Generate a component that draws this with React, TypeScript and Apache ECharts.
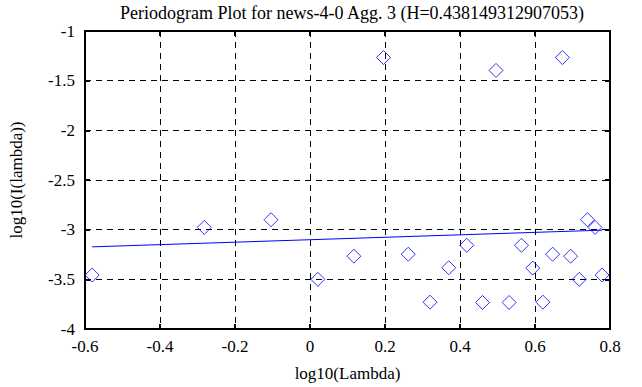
import React, { useEffect, useRef } from "react";
import * as echarts from "echarts";

const titleText = "Periodogram Plot for news-4-0 Agg. 3 (H=0.438149312907053)";
const xName = "log10(Lambda)";
const yName = "log10(I(lambda))";

const pointX = [
  -0.581, -0.282, -0.104, 0.021, 0.117, 0.196, 0.262, 0.32, 0.37, 0.418, 0.46, 0.496,
  0.531, 0.564, 0.594, 0.621, 0.647, 0.673, 0.695, 0.718, 0.74, 0.76, 0.779,
];
const pointY = [
  -3.457, -2.977, -2.9, -3.5, -3.267, -1.267, -3.247, -3.73, -3.383, -3.157, -3.733, -1.397,
  -3.733, -3.157, -3.387, -3.73, -3.247, -1.267, -3.267, -3.5, -2.9, -2.977, -3.457,
];
const fitX = [-0.581, 0.779];
const fitY = [-3.173, -3.005];

const xMin = -0.6, xMax = 0.8, xStep = 0.2;
const yMin = -4, yMax = -1, yStep = 0.5;

const font = "'Liberation Serif', 'DejaVu Serif', serif";

export default function App() {
  const ref = useRef<HTMLDivElement>(null);
  useEffect(() => {
    if (!ref.current) return;
    const chart = echarts.init(ref.current, undefined, { renderer: "svg" });
    const fmt = (v: number) => {
      const r = Math.round(v * 10) / 10;
      return r === 0 ? "0" : String(r);
    };
    const axisCommon = {
      axisLine: { show: true, onZero: false, lineStyle: { color: "#000", width: 2 } },
      axisTick: { show: true, inside: true, length: 5, lineStyle: { color: "#000", width: 2 } },
    };
    chart.setOption({
      animation: false,
      backgroundColor: "#fff",
      title: {
        text: titleText,
        left: 347,
        top: -1,
        textAlign: "center",
        textStyle: { fontFamily: font, fontSize: 18, fontWeight: "normal", color: "#000" },
      },
      grid: { left: 82, right: 32, top: 31, bottom: 56, containLabel: false },
      xAxis: [
        {
          type: "value",
          min: xMin,
          max: xMax,
          interval: xStep,
          position: "bottom",
          name: xName,
          nameLocation: "middle",
          nameGap: 36,
          nameTextStyle: { fontFamily: font, fontSize: 17, color: "#000" },
          ...axisCommon,
          axisLabel: { fontFamily: font, fontSize: 17, color: "#000", margin: 9, formatter: fmt },
          splitLine: { show: true, lineStyle: { color: "#000", type: [6, 5], width: 1 } },
        },
        {
          type: "value",
          min: xMin,
          max: xMax,
          interval: xStep,
          position: "top",
          ...axisCommon,
          axisLabel: { show: false },
          splitLine: { show: false },
        },
      ],
      yAxis: [
        {
          type: "value",
          min: yMin,
          max: yMax,
          interval: yStep,
          position: "left",
          name: yName,
          nameLocation: "middle",
          nameGap: 60,
          nameRotate: 90,
          nameTextStyle: { fontFamily: font, fontSize: 17, color: "#000" },
          ...axisCommon,
          axisLabel: { fontFamily: font, fontSize: 17, color: "#000", margin: 10, formatter: fmt },
          splitLine: { show: true, lineStyle: { color: "#000", type: [6, 5], width: 1 } },
        },
        {
          type: "value",
          min: yMin,
          max: yMax,
          interval: yStep,
          position: "right",
          ...axisCommon,
          axisLabel: { show: false },
          splitLine: { show: false },
        },
      ],
      series: [
        {
          type: "scatter",
          data: pointX.map((x, i) => [x, pointY[i]]),
          symbol: "diamond",
          symbolSize: [14, 14],
          itemStyle: { color: "rgba(0,0,0,0)", borderColor: "#0000ff", borderWidth: 1 },
          z: 3,
        },
        {
          type: "line",
          data: fitX.map((x, i) => [x, fitY[i]]),
          showSymbol: false,
          symbol: "none",
          lineStyle: { color: "#0000ff", width: 1 },
          z: 2,
        },
      ],
    });
    return () => chart.dispose();
  }, []);
  return (
    <div
      ref={ref}
      style={{ position: "absolute", left: 0, top: 0, width: 642, height: 387 }}
    />
  );
}
